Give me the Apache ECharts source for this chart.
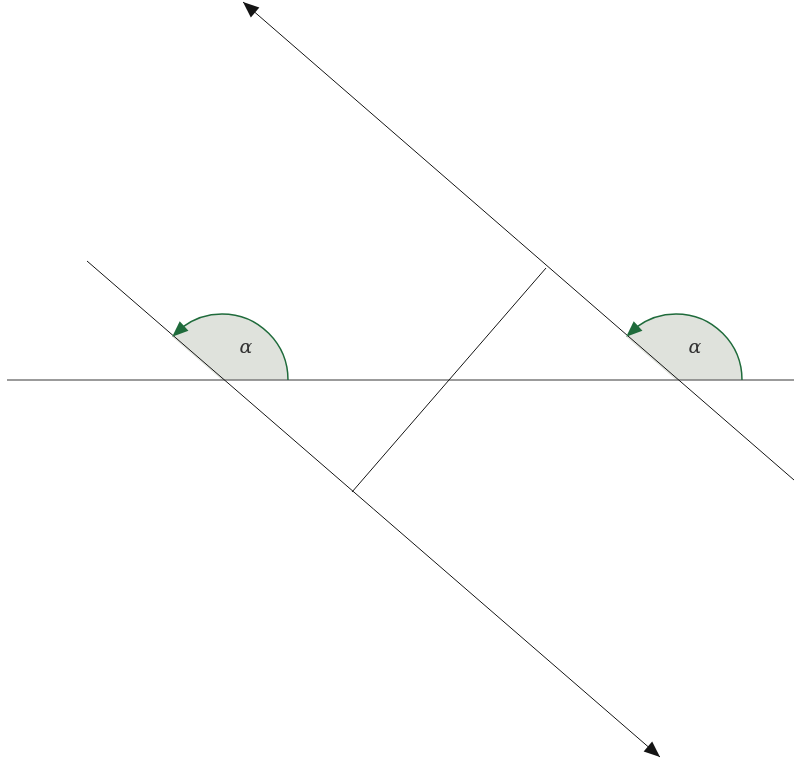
<!DOCTYPE html>
<html>
<head>
<meta charset="utf-8">
<script src="https://cdn.jsdelivr.net/npm/echarts@6/dist/echarts.min.js"></script>
<style>html,body{margin:0;padding:0;background:#fff;}#chart{width:794px;height:767px;}</style>
</head>
<body>
<div id="chart"></div>
<script>
// Geometry data (units: math coords, origin at middle crossing)
const baseLine = [[-4.42, 0], [3.45, 0]];
const lineLeft = [[-3.62, 1.19], [2.11, -3.77]];
const lineRight = [[-2.06, 3.78], [3.45, -1.00]];
const perpendicular = [[-0.97, -1.12], [0.97, 1.12]];
const angleCenters = [[-2.27, 0], [2.27, 0]];
const angleRadius = 0.66;
const angleDeg = 139;
const angleLabels = ['α', 'α'];
const labelPositions = [[-2.03, 0.32], [2.46, 0.32]];

const chart = echarts.init(document.getElementById('chart'), null, {renderer: 'canvas'});

function arrowHead(tip, dir, len, halfW, color) {
  const n = Math.hypot(dir[0], dir[1]);
  const ux = dir[0] / n, uy = dir[1] / n;
  const bx = tip[0] - ux * len, by = tip[1] - uy * len;
  return {
    type: 'polygon',
    shape: {points: [tip, [bx - uy * halfW, by + ux * halfW], [bx + uy * halfW, by - ux * halfW]]},
    style: {fill: color},
    z2: 20
  };
}

function segRenderer(color, width, arrowStart, arrowEnd) {
  return function (params, api) {
    const p1 = api.coord([api.value(0), api.value(1)]);
    const p2 = api.coord([api.value(2), api.value(3)]);
    const children = [{
      type: 'line',
      shape: {x1: p1[0], y1: p1[1], x2: p2[0], y2: p2[1]},
      style: {stroke: color, lineWidth: width}
    }];
    const aS = arrowStart[params.dataIndex], aE = arrowEnd[params.dataIndex];
    if (aS) children.push(arrowHead(p1, [p1[0] - p2[0], p1[1] - p2[1]], 16, 6.5, color));
    if (aE) children.push(arrowHead(p2, [p2[0] - p1[0], p2[1] - p1[1]], 16, 6.5, color));
    return {type: 'group', children: children};
  };
}

const flat = s => [s[0][0], s[0][1], s[1][0], s[1][1]];

const option = {
  animation: false,
  grid: {left: 0, right: 0, top: 0, bottom: 0},
  xAxis: {type: 'value', min: -4.49, max: 3.45, show: false},
  yAxis: {type: 'value', min: -3.87, max: 3.80, show: false},
  series: [
    {
      type: 'custom',
      z: 1,
      data: angleCenters.map(c => [c[0], c[1], angleRadius, angleDeg]),
      renderItem: function (params, api) {
        const c = api.coord([api.value(0), api.value(1)]);
        const r = api.size([api.value(2), 0])[0];
        const a = api.value(3) * Math.PI / 180;
        return {
          type: 'sector',
          shape: {cx: c[0], cy: c[1], r0: 0, r: r, startAngle: 0, endAngle: -a, clockwise: false},
          style: {fill: '#dfe2dc', stroke: null}
        };
      }
    },
    {
      type: 'custom',
      z: 2,
      data: [flat(baseLine)],
      renderItem: segRenderer('#7a7a7a', 1.4, [false], [false])
    },
    {
      type: 'custom',
      z: 3,
      data: [flat(lineLeft), flat(lineRight), flat(perpendicular)],
      renderItem: segRenderer('#141414', 1, [false, true, false], [true, false, false])
    },
    {
      type: 'custom',
      z: 4,
      data: angleCenters.map(c => [c[0], c[1], angleRadius, angleDeg]),
      renderItem: function (params, api) {
        const c = api.coord([api.value(0), api.value(1)]);
        const r = api.size([api.value(2), 0])[0];
        const a = api.value(3) * Math.PI / 180;
        const L = 16, hw = 6.5;
        const stop = a - (L - 2) / r;
        const tip = [c[0] + r * Math.cos(a), c[1] - r * Math.sin(a)];
        const back = a - L / r;
        const dir = [tip[0] - (c[0] + r * Math.cos(back)), tip[1] - (c[1] - r * Math.sin(back))];
        return {
          type: 'group',
          children: [
            {
              type: 'arc',
              shape: {cx: c[0], cy: c[1], r: r, startAngle: 0, endAngle: -stop, clockwise: false},
              style: {stroke: '#1f6b3b', lineWidth: 1.5, fill: null}
            },
            arrowHead(tip, dir, L, hw, '#1f6b3b')
          ]
        };
      }
    },
    {
      type: 'custom',
      z: 5,
      data: labelPositions.map((p, i) => [p[0], p[1], i]),
      renderItem: function (params, api) {
        const p = api.coord([api.value(0), api.value(1)]);
        return {
          type: 'text',
          x: p[0], y: p[1],
          style: {
            text: angleLabels[params.dataIndex],
            font: 'italic 19px "DejaVu Serif", "Liberation Serif", serif',
            fill: '#333',
            align: 'center',
            verticalAlign: 'middle'
          }
        };
      }
    }
  ]
};
chart.setOption(option);
</script>
</body>
</html>
